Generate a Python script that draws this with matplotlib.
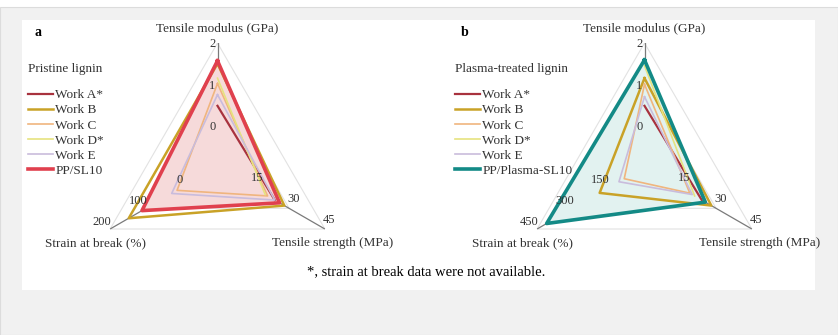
import numpy as np
import matplotlib
matplotlib.use('Agg')
import matplotlib.pyplot as plt
from matplotlib.lines import Line2D
from matplotlib.patches import Rectangle

plt.rcParams['font.family'] = ['Liberation Serif', 'DejaVu Serif']

# ---- data ----
series_a = ['Work A*', 'Work B', 'Work C', 'Work D*', 'Work E', 'PP/SL10']
series_b = ['Work A*', 'Work B', 'Work C', 'Work D*', 'Work E', 'PP/Plasma-SL10']

modulus_a = [0.48, 1.50, 1.02, 1.15, 0.75, 1.57]      # GPa
strength_a = [24.0, 28.0, 21.0, 20.0, 24.0, 26.0]     # MPa
strain_a = [np.nan, 148.0, 13.0, np.nan, 28.0, 111.0]  # %

modulus_b = [0.48, 1.15, 1.00, 1.45, 0.70, 1.59]
strength_b = [24.0, 28.0, 19.0, 21.0, 20.0, 25.5]
strain_b = [np.nan, 188.0, 85.0, np.nan, 107.0, 410.0]

modulus_ticks = [0, 1, 2]
strength_ticks = [15, 30, 45]
strain_ticks_a = [0, 100, 200]
strain_ticks_b = [150, 300, 450]

colors = ['#a8323e', '#c9a227', '#f0b57e', '#e6e37f', '#c9bcdc']
lws = [1.6, 1.8, 1.2, 1.2, 1.2]

# axis angles: modulus (top), strength (bottom right), strain (bottom left)
ang = [np.pi / 2, -np.pi / 6, 7 * np.pi / 6]


def norm(v, lo, hi):
  return (np.asarray(v, dtype=float) - lo) / (hi - lo)


def draw_radar(ax, mod, stre, strain, strain_lo, strain_hi, strain_ticks, main_color, fill_color):
  ax.axis('off')
  ax.set_ylim(0, 1)
  th = ang + [ang[0]]
  for g in [1 / 3, 2 / 3, 1]:
    ax.plot(th, [g] * 4, color='#e2e2e2', lw=0.8, zorder=1)
  for a in ang:
    ax.plot([a, a], [0, 1], color='#7a7a7a', lw=0.9, zorder=2)

  rm = norm(mod, -1, 2)
  rs = norm(stre, 0, 45)
  rb = norm(strain, strain_lo, strain_hi)

  handles = []
  n = len(mod)
  for i in range(n):
    r = [rm[i], rs[i], rb[i], rm[i]]
    if i == n - 1:
      ax.fill(ang, r[:3], color=fill_color, zorder=2.5, lw=0)
      ax.plot(th, r, color=main_color, lw=2.6, zorder=6)
      handles.append(Line2D([], [], color=main_color, lw=2.6))
    else:
      ax.plot(th, r, color=colors[i], lw=lws[i], zorder=3 + 0.1 * i)
      handles.append(Line2D([], [], color=colors[i], lw=lws[i]))

  # tick labels
  for k, t in enumerate(modulus_ticks):
    ax.annotate(str(t), xy=(ang[0], (k + 1) / 3), xytext=(-1.5, -1), textcoords='offset points',
                ha='right', va='center', fontsize=9, color='#333333', zorder=8)
  for k, t in enumerate(strength_ticks):
    ax.annotate(str(t), xy=(ang[1], (k + 1) / 3), xytext=(-1.5, 2.5), textcoords='offset points',
                ha='left', va='bottom', fontsize=9, color='#333333', zorder=8)
  for k, t in enumerate(strain_ticks):
    ax.annotate(str(t), xy=(ang[2], (k + 1) / 3), xytext=(1, 1), textcoords='offset points',
                ha='right', va='bottom', fontsize=9, color='#333333', zorder=8)
  return handles


W, H = 838, 335
fig = plt.figure(figsize=(W / 100, H / 100), dpi=100)
fig.patch.set_facecolor('white')
fig.patches.append(Rectangle((0, 0), 1, 1 - 7 / H, transform=fig.transFigure, facecolor='#f1f1f1',
                             edgecolor='#dcdcdc', lw=0.8, zorder=-2))
fig.patches.append(Rectangle((22 / W, 1 - 290 / H), (815 - 22) / W, (290 - 20) / H,
                             transform=fig.transFigure, facecolor='white', edgecolor='none', zorder=-1))


def px(x, y):
  return x / W, 1 - y / H


R = 124
cy = 167
for cx, mod, stre, strain, lo, hi, sticks, mc, fc, names, letter, title in [
    (217.5, modulus_a, strength_a, strain_a, -100, 200, strain_ticks_a, '#e0404e', '#f6dada', series_a, 'a', 'Pristine lignin'),
    (644.5, modulus_b, strength_b, strain_b, 0, 450, strain_ticks_b, '#138a86', '#e2f2f0', series_b, 'b', 'Plasma-treated lignin')]:
  ax = fig.add_axes([(cx - R) / W, (H - cy - R) / H, 2 * R / W, 2 * R / H], projection='polar')
  handles = draw_radar(ax, mod, stre, strain, lo, hi, sticks, mc, fc)

  fig.text(*px(cx, 28), 'Tensile modulus (GPa)', ha='center', va='center', fontsize=9.5, color='#333333')
  fig.text(*px(cx - 122, 243), 'Strain at break (%)', ha='center', va='center', fontsize=9.5, color='#333333')
  fig.text(*px(cx + 115, 243), 'Tensile strength (MPa)', ha='center', va='center', fontsize=9.5, color='#333333')

  x0 = cx - 190
  fig.text(*px(x0 + 10, 33), letter, ha='center', va='center', fontsize=10, fontweight='bold')
  fig.text(*px(x0, 69), title, ha='left', va='center', fontsize=9.5, color='#333333')
  fig.legend(handles, names, loc='upper left', bbox_to_anchor=px(x0, 89), frameon=False,
             fontsize=9.5, handlelength=1.9, handletextpad=0.2, labelspacing=0.22,
             borderpad=0, borderaxespad=0, labelcolor='#333333')

fig.text(*px(426, 272), '*, strain at break data were not available.', ha='center', va='center', fontsize=10.5)

fig.savefig('out.png', dpi=100)
